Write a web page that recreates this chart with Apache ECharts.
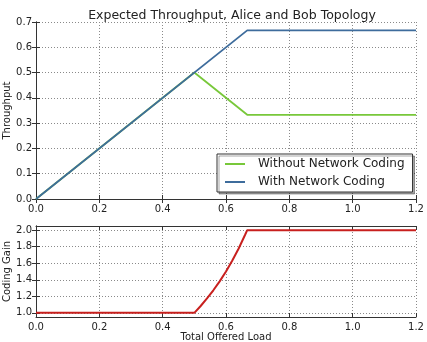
<!DOCTYPE html>
<html><head><meta charset="utf-8">
<script src="https://cdn.jsdelivr.net/npm/echarts@6/dist/echarts.min.js"></script>
<style>html,body{margin:0;padding:0;background:#fff}#c{width:427px;height:342px}</style>
</head><body><div id="c"></div>
<script>
const titleText = 'Expected Throughput, Alice and Bob Topology';
const seriesNames = ['Without Network Coding', 'With Network Coding'];
const withoutX = [0, 0.5, 0.667, 1.2];
const withoutY = [0, 0.5, 0.333, 0.333];
const withX = [0, 0.667, 1.2];
const withY = [0, 0.667, 0.667];
const gainX = [0, 0.5, 0.52, 0.54, 0.56, 0.58, 0.6, 0.62, 0.64, 0.66, 0.667, 1.2];
const gainY = [1, 1, 1.083, 1.174, 1.273, 1.381, 1.5, 1.632, 1.778, 1.941, 2, 2];
const gainTicks = [1.0, 1.2, 1.4, 1.6, 1.8, 2.0];

const pairs = (xs, ys) => xs.map((x, i) => [x, ys[i]]);
const font = 'DejaVu Sans';
const txt = '#222';
const split = {show: true, lineStyle: {color: '#8a8a8a', type: [1, 2], width: 1}};
const tickIn = {show: true, inside: true, length: 4, lineStyle: {color: '#333'}};
const lbl = {fontFamily: font, fontSize: 10, color: txt, formatter: v => v.toFixed(1)};

function xAxisPair(gi, showName) {
  return [
    {type: 'value', gridIndex: gi, min: 0, max: 1.2, interval: 0.2, position: 'bottom',
     axisLine: {show: true, lineStyle: {color: '#333'}}, axisTick: tickIn,
     axisLabel: Object.assign({margin: 5}, lbl), splitLine: split,
     name: showName ? 'Total Offered Load' : '', nameLocation: 'middle', nameGap: 15,
     nameMoveOverlap: false,
     nameTextStyle: {fontFamily: font, fontSize: 10, color: txt}},
    {type: 'value', gridIndex: gi, min: 0, max: 1.2, interval: 0.2, position: 'top',
     axisLine: {show: true, lineStyle: {color: '#333'}}, axisTick: tickIn,
     axisLabel: {show: false}, splitLine: {show: false}}
  ];
}
function yAxisPair(gi, min, max, interval, name, custom) {
  const tick = Object.assign({}, tickIn);
  const label = Object.assign({margin: 4}, lbl);
  const sl = Object.assign({}, split);
  const ax = {type: 'value', gridIndex: gi, min: min, max: max, position: 'left',
     axisLine: {show: true, lineStyle: {color: '#333'}}, axisTick: tick,
     axisLabel: label, splitLine: sl,
     name: name, nameLocation: 'middle', nameGap: 24, nameMoveOverlap: false,
     nameTextStyle: {fontFamily: font, fontSize: 10, color: txt}};
  const ax2 = {type: 'value', gridIndex: gi, min: min, max: max, position: 'right',
     axisLine: {show: true, lineStyle: {color: '#333'}}, axisTick: Object.assign({}, tickIn),
     axisLabel: {show: false}, splitLine: {show: false}};
  if (custom) {
    tick.customValues = custom; label.customValues = custom; sl.customValues = custom;
    ax2.axisTick.customValues = custom;
  } else {
    ax.interval = interval; ax2.interval = interval;
  }
  return [ax, ax2];
}

const chart = echarts.init(document.getElementById('c'), null, {renderer: 'canvas'});
chart.setOption({
  animation: false,
  backgroundColor: '#fff',
  title: {text: titleText, left: 227, textAlign: 'center', top: 4,
          textStyle: {fontFamily: font, fontSize: 12.5, fontWeight: 'normal', color: txt}},
  grid: [
    {left: 36, right: 11, top: 22, height: 177, outerBoundsMode: 'none', containLabel: false},
    {left: 36, right: 11, top: 226, height: 91, outerBoundsMode: 'none', containLabel: false}
  ],
  xAxis: [...xAxisPair(0, false), ...xAxisPair(1, true)],
  yAxis: [...yAxisPair(0, 0, 0.7, 0.1, 'Throughput', null), ...yAxisPair(1, 0.95, 2.05, 0.2, 'Coding Gain', gainTicks)],
  legend: {
    data: seriesNames, orient: 'vertical', left: 217, top: 154,
    icon: 'rect', itemWidth: 20, itemHeight: 2, itemGap: 6,
    padding: [4, 8, 4, 8],
    borderColor: '#333', borderWidth: 1, backgroundColor: '#fff',
    shadowColor: 'rgba(0,0,0,0.35)', shadowOffsetX: 2, shadowOffsetY: 2, shadowBlur: 0,
    textStyle: {fontFamily: font, fontSize: 12, color: txt, padding: [0, 0, 0, 8]}
  },
  series: [
    {name: seriesNames[0], type: 'line', xAxisIndex: 0, yAxisIndex: 0, data: pairs(withoutX, withoutY),
     symbol: 'none', lineStyle: {color: '#78c83a', width: 1.8}, itemStyle: {color: '#78c83a'}},
    {name: seriesNames[1], type: 'line', xAxisIndex: 0, yAxisIndex: 0, data: pairs(withX, withY),
     symbol: 'none', lineStyle: {color: '#3e6c9c', width: 1.8}, itemStyle: {color: '#3e6c9c'}},
    {name: 'Coding Gain', type: 'line', xAxisIndex: 2, yAxisIndex: 2, data: pairs(gainX, gainY),
     symbol: 'none', lineStyle: {color: '#c8201e', width: 2}, itemStyle: {color: '#c8201e'}}
  ]
});
</script></body></html>
